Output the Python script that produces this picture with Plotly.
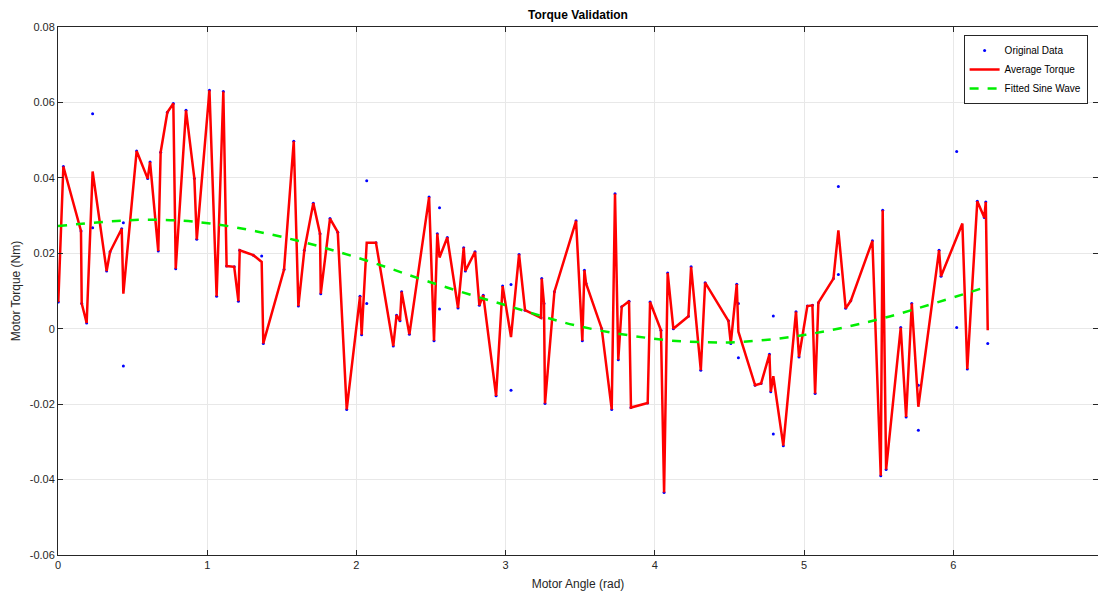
import plotly.graph_objects as go

# Averaged torque per motor angle (red line)
angle_avg = [0.002, 0.036, 0.154, 0.159, 0.192, 0.232, 0.326, 0.349, 0.427, 0.438,
             0.527, 0.601, 0.617, 0.672, 0.688, 0.733, 0.773, 0.789, 0.858, 0.914,
             0.930, 1.015, 1.063, 1.108, 1.130, 1.181, 1.209, 1.218, 1.309, 1.365,
             1.376, 1.515, 1.580, 1.611, 1.651, 1.711, 1.756, 1.761, 1.823, 1.875,
             1.935, 2.024, 2.035, 2.069, 2.131, 2.247, 2.269, 2.292, 2.303, 2.355,
             2.487, 2.520, 2.542, 2.557, 2.609, 2.681, 2.719, 2.730, 2.795, 2.824,
             2.850, 2.936, 2.980, 3.036, 3.090, 3.130, 3.237, 3.242, 3.257, 3.264,
             3.327, 3.472, 3.514, 3.528, 3.539, 3.644, 3.711, 3.733, 3.755, 3.778,
             3.827, 3.840, 3.952, 3.968, 4.041, 4.062, 4.086, 4.124, 4.225, 4.243,
             4.308, 4.337, 4.493, 4.509, 4.549, 4.560, 4.672, 4.712, 4.768, 4.777,
             4.794, 4.861, 4.946, 4.966, 5.022, 5.056, 5.074, 5.096, 5.197, 5.230,
             5.279, 5.313, 5.458, 5.514, 5.527, 5.550, 5.648, 5.684, 5.722, 5.766,
             5.905, 5.918, 6.061, 6.094, 6.161, 6.208, 6.218, 6.231]
torque_avg = [0.0071, 0.0430, 0.0259, 0.0067, 0.0015, 0.0417, 0.0153, 0.0204, 0.0265, 0.0093,
              0.0471, 0.0398, 0.0442, 0.0206, 0.0468, 0.0574, 0.0597, 0.0159, 0.0579, 0.0398,
              0.0237, 0.0632, 0.0086, 0.0629, 0.0166, 0.0164, 0.0073, 0.0208, 0.0195, 0.0177,
              -0.0039, 0.0157, 0.0497, 0.0060, 0.0208, 0.0333, 0.0252, 0.0093, 0.0292, 0.0256,
              -0.0214, 0.0086, -0.0016, 0.0228, 0.0228, -0.0046, 0.0036, 0.0021, 0.0098, -0.0015,
              0.0349, -0.0032, 0.0252, 0.0189, 0.0242, 0.0055, 0.0215, 0.0153, 0.0204, 0.0062,
              0.0089, -0.0178, 0.0113, -0.0022, 0.0197, 0.0049, 0.0029, 0.0133, 0.0067, -0.0198,
              0.0098, 0.0286, -0.0032, 0.0155, 0.0120, 0.0000, -0.0214, 0.0358, -0.0082, 0.0058,
              0.0073, -0.0209, -0.0197, 0.0071, -0.0004, -0.0434, 0.0148, 0.0000, 0.0033, 0.0164,
              -0.0110, 0.0122, 0.0021, -0.0039, 0.0118, -0.0008, -0.0150, -0.0145, -0.0068, -0.0167,
              -0.0126, -0.0310, 0.0045, -0.0075, 0.0060, 0.0062, -0.0172, 0.0069, 0.0133, 0.0261,
              0.0054, 0.0074, 0.0233, -0.0390, 0.0314, -0.0373, 0.0003, -0.0234, 0.0067, -0.0207,
              0.0208, 0.0139, 0.0279, -0.0107, 0.0338, 0.0295, 0.0336, -0.0004]

# Raw samples that differ from the averaged value (blue dots off the red line)
extra_angle = [0.232, 0.232, 0.438, 0.438, 1.365, 2.069, 2.069, 2.557, 2.557, 3.036, 3.036,
               4.560, 4.560, 4.794, 4.794, 5.230, 5.230, 5.766, 5.766, 6.023, 6.023, 6.231]
extra_torque = [0.0570, 0.0268, 0.0281, -0.0099, 0.0193, 0.0392, 0.0067, 0.0321, 0.0052, 0.0117, -0.0163,
                0.0067, -0.0077, 0.0034, -0.0279, 0.0377, 0.0144, -0.0150, -0.0269, 0.0470, 0.0003, -0.0039]
paired_angles = [0.232, 0.438, 1.365, 2.069, 2.557, 3.036, 4.560, 4.794, 5.230, 5.766, 6.061, 6.231]

# Fitted sine wave
fit_angle = [0.0, 0.58, 1.02, 1.58, 2.05, 2.49, 3.02, 3.51, 4.07, 4.35, 4.58, 5.01, 5.52, 6.23]
fit_torque = [0.0272, 0.0289, 0.0279, 0.0236, 0.0183, 0.0124, 0.0060, 0.0005, -0.0030, -0.0036,
              -0.0035, -0.0016, 0.0027, 0.0112]

orig_x = [a for a in angle_avg if a not in paired_angles] + extra_angle
orig_y = [t for a, t in zip(angle_avg, torque_avg) if a not in paired_angles] + extra_torque

FONT = "Liberation Sans, Arial, sans-serif"
AXC = "#262626"

fig = go.Figure()
fig.add_trace(go.Scatter(x=orig_x, y=orig_y, mode="markers", name="Original Data",
                         marker=dict(color="#0000ff", size=3)))
fig.add_trace(go.Scatter(x=angle_avg, y=torque_avg, mode="lines", name="Average Torque",
                         line=dict(color="#ff0000", width=2.5)))
fig.add_trace(go.Scatter(x=fit_angle, y=fit_torque, mode="lines", name="Fitted Sine Wave",
                         line=dict(color="#00ee00", width=2.5, dash="dash", shape="spline")))

axis_common = dict(showgrid=True, gridcolor="#e8e8e8", gridwidth=1, zeroline=False,
                   showline=True, linecolor=AXC, linewidth=1, mirror="ticks",
                   ticks="inside", ticklen=5, tickcolor=AXC,
                   tickfont=dict(family=FONT, size=11, color=AXC))

fig.update_xaxes(range=[0, 6.97], tickvals=[0, 1, 2, 3, 4, 5, 6, 7],
                 title=dict(text="Motor Angle (rad)", font=dict(family=FONT, size=12, color=AXC),
                            standoff=9),
                 **axis_common)
fig.update_yaxes(range=[-0.06, 0.08], tickvals=[-0.06, -0.04, -0.02, 0, 0.02, 0.04, 0.06, 0.08],
                 ticktext=["-0.06", "-0.04", "-0.02", "0", "0.02", "0.04", "0.06", "0.08"],
                 title=dict(text="Motor Torque (Nm)", font=dict(family=FONT, size=12, color=AXC),
                            standoff=6),
                 **axis_common)

fig.update_layout(
    width=1098, height=595,
    margin=dict(l=58, r=0, t=27, b=40),
    plot_bgcolor="white", paper_bgcolor="white",
    title=dict(text="<b>Torque Validation</b>", x=0.5, xanchor="center", y=0.975, yanchor="middle",
               xref="paper", font=dict(family=FONT, size=12, color="#000000")),
    showlegend=True,
    legend=dict(x=0.99, y=0.985, xanchor="right", yanchor="top",
                bgcolor="white", bordercolor=AXC, borderwidth=1,
                font=dict(family=FONT, size=10, color="#000000"),
                tracegroupgap=0, itemwidth=30),
)

fig.write_html("out.html")
